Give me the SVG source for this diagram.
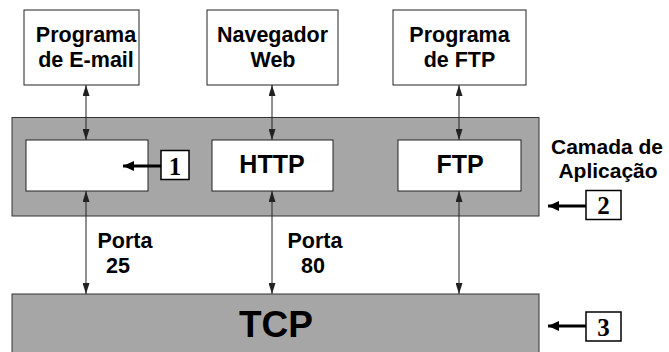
<svg xmlns="http://www.w3.org/2000/svg" width="669" height="352" viewBox="0 0 669 352">
<style>
.box{fill:#fff;stroke:#222;stroke-width:1}
.layer{fill:#a6a6a6;stroke:#333;stroke-width:1}
.t{font-family:"Liberation Sans",Arial,sans-serif;font-weight:bold;fill:#000;text-anchor:middle}
.s{font-size:21.5px}
.n{font-family:"Liberation Serif","Times New Roman",serif;font-weight:bold;font-size:25px;fill:#000;text-anchor:middle}
.lbl{fill:#fff;stroke:#000;stroke-width:1.5}
.conn{stroke:#222;stroke-width:1;fill:none;marker-start:url(#ah);marker-end:url(#ah)}
.ptr{stroke:#000;stroke-width:3;fill:none;marker-end:url(#ph)}
</style>
<defs>
<marker id="ah" markerUnits="userSpaceOnUse" markerWidth="11" markerHeight="7" refX="11" refY="3.5" orient="auto-start-reverse"><path d="M0,0 L11,3.5 L0,7 z" fill="#222"/></marker>
<marker id="ph" markerUnits="userSpaceOnUse" markerWidth="11" markerHeight="10" refX="11" refY="5" orient="auto"><path d="M0,0 L11,5 L0,10 z" fill="#000"/></marker>
</defs>
<g id="app-layer"><rect class="layer" x="12" y="117.5" width="527" height="98.5"/></g>
<g id="tcp-layer"><rect class="layer" x="12" y="294" width="527" height="70"/><text class="t" x="276" y="337" font-size="37">TCP</text></g>
<g id="email-prog"><rect class="box" x="24" y="10" width="115" height="75"/><text class="t s" x="86" y="42">Programa</text><text class="t s" x="86" y="67">de E-mail</text></g>
<g id="browser"><rect class="box" x="207" y="10" width="131" height="75"/><text class="t s" x="272.5" y="42">Navegador</text><text class="t s" x="273" y="67">Web</text></g>
<g id="ftp-prog"><rect class="box" x="393" y="10" width="133" height="75"/><text class="t s" x="459.5" y="42">Programa</text><text class="t s" x="459.5" y="67">de FTP</text></g>
<g id="email-proto"><rect class="box" x="26" y="140" width="122" height="51"/></g>
<g id="http"><rect class="box" x="212" y="140" width="121" height="51"/><text class="t" font-size="25" x="272" y="173">HTTP</text></g>
<g id="ftp"><rect class="box" x="398" y="140" width="123" height="51"/><text class="t" font-size="25" x="460" y="173">FTP</text></g>
<g id="layer-label"><text class="t" font-size="21" x="607" y="154">Camada de</text><text class="t" font-size="21" x="608" y="178">Aplicação</text></g>
<g id="port25"><text class="t s" x="125" y="248">Porta</text><text class="t s" x="118" y="273">25</text></g>
<g id="port80"><text class="t s" x="315" y="248">Porta</text><text class="t s" x="313" y="273">80</text></g>
<g id="marker1"><rect class="lbl" x="161" y="150.5" width="28" height="29"/><text class="n" x="175" y="175">1</text></g>
<g id="marker2"><rect class="lbl" x="586" y="190.5" width="35" height="29"/><text class="n" x="603.5" y="214">2</text></g>
<g id="marker3"><rect class="lbl" x="586" y="312" width="35" height="29"/><text class="n" x="603.5" y="336">3</text></g>
<g id="connectors">
<line class="conn" x1="86" y1="85" x2="86" y2="140"/>
<line class="conn" x1="272" y1="85" x2="272" y2="140"/>
<line class="conn" x1="459" y1="85" x2="459" y2="140"/>
<line class="conn" x1="86" y1="191" x2="86" y2="294"/>
<line class="conn" x1="272" y1="191" x2="272" y2="294"/>
<line class="conn" x1="459" y1="191" x2="459" y2="294"/>
<line class="ptr" x1="161" y1="166" x2="123" y2="166"/>
<line class="ptr" x1="586" y1="206" x2="548" y2="206"/>
<line class="ptr" x1="586" y1="326" x2="548" y2="326"/>
</g>
</svg>
